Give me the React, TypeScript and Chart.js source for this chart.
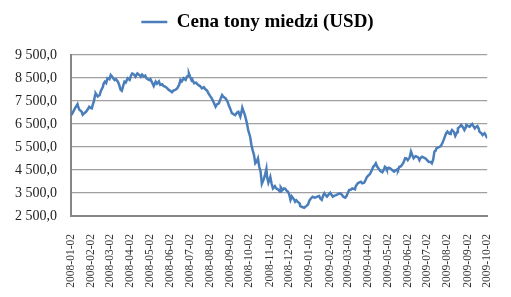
import React, { useEffect, useRef } from "react";
import { Chart, registerables } from "chart.js";

Chart.register(...registerables);

const seriesLabel = "Cena tony miedzi (USD)";

const dates: string[] = [
  "2008-01-02","2008-01-04","2008-01-08","2008-01-12","2008-01-13","2008-01-15","2008-01-18","2008-01-20","2008-01-23","2008-01-25","2008-01-28","2008-01-30",
  "2008-02-01","2008-02-03","2008-02-04","2008-02-06","2008-02-08","2008-02-09","2008-02-12","2008-02-15","2008-02-17","2008-02-20","2008-02-21","2008-02-23","2008-02-25","2008-02-27",
  "2008-03-01","2008-03-03","2008-03-05","2008-03-07","2008-03-09","2008-03-11","2008-03-14","2008-03-16","2008-03-18","2008-03-20","2008-03-22","2008-03-24","2008-03-26","2008-03-29",
  "2008-04-01","2008-04-03","2008-04-05","2008-04-08","2008-04-10","2008-04-13","2008-04-16","2008-04-18","2008-04-20","2008-04-23","2008-04-25","2008-04-27",
  "2008-05-01","2008-05-03","2008-05-06","2008-05-08","2008-05-11","2008-05-13","2008-05-16","2008-05-18","2008-05-21","2008-05-23","2008-05-26","2008-05-29","2008-05-31",
  "2008-06-02","2008-06-05","2008-06-07","2008-06-10","2008-06-13","2008-06-16","2008-06-18","2008-06-20","2008-06-23","2008-06-26","2008-06-28","2008-06-30",
  "2008-07-01","2008-07-03","2008-07-05","2008-07-06","2008-07-09","2008-07-12","2008-07-15","2008-07-18","2008-07-21","2008-07-24","2008-07-26","2008-07-29","2008-07-31",
  "2008-08-03","2008-08-05","2008-08-08","2008-08-11","2008-08-13","2008-08-16","2008-08-18","2008-08-21","2008-08-23","2008-08-26","2008-08-29","2008-08-31",
  "2008-09-02","2008-09-05","2008-09-08","2008-09-10","2008-09-13","2008-09-15","2008-09-18","2008-09-20","2008-09-21","2008-09-23","2008-09-25","2008-09-28","2008-09-30",
  "2008-10-03","2008-10-05","2008-10-07","2008-10-09","2008-10-11","2008-10-13","2008-10-15","2008-10-17","2008-10-19","2008-10-21","2008-10-24","2008-10-26","2008-10-28","2008-10-29","2008-10-31",
  "2008-11-03","2008-11-05","2008-11-07","2008-11-10","2008-11-12","2008-11-15","2008-11-18","2008-11-19","2008-11-22","2008-11-24","2008-11-26","2008-11-28","2008-11-30",
  "2008-12-02","2008-12-04","2008-12-06","2008-12-08","2008-12-10","2008-12-11","2008-12-13","2008-12-15","2008-12-18","2008-12-19","2008-12-21","2008-12-23","2008-12-25","2008-12-28","2008-12-31",
  "2009-01-02","2009-01-04","2009-01-07","2009-01-10","2009-01-12","2009-01-15","2009-01-17","2009-01-19","2009-01-21","2009-01-23","2009-01-25","2009-01-27","2009-01-29",
  "2009-02-01","2009-02-03","2009-02-05","2009-02-07","2009-02-09","2009-02-12","2009-02-15","2009-02-18","2009-02-21","2009-02-23","2009-02-26","2009-02-28",
  "2009-03-02","2009-03-04","2009-03-07","2009-03-09","2009-03-13","2009-03-14","2009-03-17","2009-03-19","2009-03-22","2009-03-24","2009-03-27","2009-03-29","2009-03-31",
  "2009-04-02","2009-04-05","2009-04-08","2009-04-10","2009-04-12","2009-04-14","2009-04-16","2009-04-19","2009-04-21","2009-04-24","2009-04-26","2009-04-28","2009-04-30",
  "2009-05-01","2009-05-04","2009-05-06","2009-05-09","2009-05-12","2009-05-14","2009-05-17","2009-05-18","2009-05-20","2009-05-22","2009-05-24","2009-05-26","2009-05-29","2009-05-31",
  "2009-06-02","2009-06-05","2009-06-07","2009-06-09","2009-06-11","2009-06-14","2009-06-16","2009-06-18","2009-06-20","2009-06-21","2009-06-24","2009-06-26","2009-06-29",
  "2009-07-01","2009-07-04","2009-07-07","2009-07-09","2009-07-11","2009-07-13","2009-07-15","2009-07-16","2009-07-19","2009-07-21","2009-07-23","2009-07-25","2009-07-27","2009-07-29","2009-07-31",
  "2009-08-02","2009-08-04","2009-08-06","2009-08-07","2009-08-09","2009-08-12","2009-08-14","2009-08-17","2009-08-18","2009-08-21","2009-08-23","2009-08-26","2009-08-28","2009-08-30","2009-08-31",
  "2009-09-02","2009-09-05","2009-09-07","2009-09-09","2009-09-11","2009-09-13","2009-09-14","2009-09-17","2009-09-19","2009-09-20","2009-09-23","2009-09-25","2009-09-28","2009-09-30",
  "2009-10-02",
];

const prices: number[] = [
  6880,6950,7180,7360,7250,7110,7050,6900,6980,7030,7150,7250,
  7200,7180,7300,7470,7750,7830,7700,7760,7950,8120,8250,8340,8280,8490,
  8450,8630,8560,8480,8410,8450,8340,8200,8000,7950,8150,8340,8300,8490,
  8420,8600,8700,8650,8560,8700,8630,8560,8650,8560,8600,8480,
  8410,8450,8270,8150,8340,8250,8350,8200,8230,8150,8120,8050,7980,
  7950,7880,7950,7980,8050,8200,8410,8350,8490,8420,8560,8600,
  8700,8550,8410,8450,8270,8300,8200,8150,8050,8100,8020,7950,7830,
  7700,7620,7450,7250,7350,7400,7550,7760,7680,7620,7500,7330,
  7200,6970,6920,6890,7000,7030,6820,7050,7210,7050,6890,6550,6240,
  5950,5590,5350,5150,4790,4860,5000,4640,4450,3900,4100,4300,4550,4200,3950,
  4200,3900,3700,3800,3700,3650,3550,3750,3630,3700,3680,3600,3560,
  3450,3200,3350,3270,3200,3120,3180,3120,3050,2930,2900,2880,2860,2930,3000,
  3170,3250,3340,3300,3310,3350,3370,3250,3200,3380,3490,3400,3340,
  3450,3510,3420,3340,3380,3410,3450,3490,3420,3340,3300,3370,
  3500,3630,3650,3700,3660,3780,3920,3950,3990,3920,3950,4050,4180,
  4250,4330,4500,4640,4700,4790,4650,4530,4450,4400,4500,4640,4600,
  4530,4600,4570,4500,4430,4480,4530,4500,4640,4650,4720,4800,5010,5000,
  4930,5050,5300,5150,5010,5100,5080,5050,4930,5000,5080,5050,5010,
  4950,4860,4850,4790,4950,5300,5350,5440,5480,5510,5550,5660,5800,5950,6100,
  6170,6100,6070,6150,6240,6150,5980,6150,6310,6380,6460,6350,6240,6350,6460,
  6420,6380,6450,6500,6400,6310,6350,6410,6300,6170,6100,6020,6100,6000,
  5880,
];

const monthTicks: string[] = [
  "2008-01-02","2008-02-02","2008-03-02","2008-04-02","2008-05-02","2008-06-02",
  "2008-07-02","2008-08-02","2008-09-02","2008-10-02","2008-11-02","2008-12-02",
  "2009-01-02","2009-02-02","2009-03-02","2009-04-02","2009-05-02","2009-06-02",
  "2009-07-02","2009-08-02","2009-09-02","2009-10-02",
];

const yTicks: number[] = [2500, 3500, 4500, 5500, 6500, 7500, 8500, 9500];

const DAY_MS = 86400000;
const parseUTC = (s: string) => {
  const [y, m, d] = s.split("-").map(Number);
  return Date.UTC(y, m - 1, d);
};
const originMs = parseUTC(monthTicks[0]);
const toDay = (s: string) => Math.round((parseUTC(s) - originMs) / DAY_MS);

const fmtY = (v: number) => {
  const [i, f] = v.toFixed(1).split(".");
  return i.replace(/\B(?=(\d{3})+(?!\d))/g, " ") + "," + f;
};

const W = 511;
const H = 297;
const PAD_LEFT = 24;
const PLOT_LEFT = 71;
const PLOT_BOTTOM = 216;

// let the y-axis labels use the room left of the layout padding (avoid clipping)
const widenYLabelArea = {
  id: "widenYLabelArea",
  afterLayout(chart: any) {
    const y = chart.scales.y;
    if (y) y.left = 0;
  },
};

export default function App() {
  const ref = useRef<HTMLCanvasElement | null>(null);

  useEffect(() => {
    document.body.style.margin = "0";
    const canvas = ref.current;
    if (!canvas) return;
    const serif = "'Liberation Serif', 'Times New Roman', serif";
    const chart = new Chart(canvas, {
      type: "line",
      data: {
        datasets: [
          {
            label: seriesLabel,
            data: dates.map((d, i) => ({ x: toDay(d), y: prices[i] })),
            borderColor: "#4A7EBB",
            backgroundColor: "#4A7EBB",
            borderWidth: 2.5,
            pointRadius: 0,
            pointHoverRadius: 0,
            tension: 0,
            fill: false,
          },
        ],
      },
      options: {
        animation: false,
        responsive: false,
        devicePixelRatio: 1,
        layout: { padding: { top: 2.5, left: PAD_LEFT, right: 20, bottom: 0 } },
        plugins: {
          legend: {
            display: true,
            position: "top",
            weight: 3000,
            labels: {
              usePointStyle: true,
              pointStyle: "line",
              pointStyleWidth: 26,
              padding: 10,
              color: "#000000",
              font: { family: serif, size: 19, weight: "bold" },
            },
          },
          title: {
            display: true,
            text: "",
            font: { size: 1 },
            padding: { top: 12.3, bottom: 0 },
          },
          tooltip: { enabled: false },
        },
        scales: {
          x: {
            type: "linear",
            min: toDay(monthTicks[0]),
            max: toDay(monthTicks[monthTicks.length - 1]),
            grid: { display: false },
            border: { display: true, color: "#868686", width: 2 },
            afterBuildTicks: (scale: any) => {
              scale.ticks = monthTicks.map((s) => ({ value: toDay(s) }));
            },
            afterFit: (scale: any) => {
              scale.height = H - PLOT_BOTTOM;
            },
            ticks: {
              autoSkip: false,
              minRotation: 90,
              maxRotation: 90,
              padding: 10,
              color: "#333333",
              font: { family: serif, size: 11.5 },
              callback: (_v: any, index: number) => monthTicks[index],
            },
          },
          y: {
            type: "linear",
            min: yTicks[0],
            max: yTicks[yTicks.length - 1],
            grid: { color: "#A0A0A0", lineWidth: 1.3, drawTicks: false },
            border: { display: true, color: "#868686", width: 2 },
            afterBuildTicks: (scale: any) => {
              scale.ticks = yTicks.map((v) => ({ value: v }));
            },
            afterFit: (scale: any) => {
              scale.width = PLOT_LEFT - PAD_LEFT;
            },
            ticks: {
              padding: 14,
              color: "#222222",
              font: { family: serif, size: 14 },
              callback: (v: any) => fmtY(Number(v)),
            },
          },
        },
      },
      plugins: [widenYLabelArea],
    } as any);
    return () => chart.destroy();
  }, []);

  return (
    <div style={{ width: W, height: H, background: "#ffffff" }}>
      <canvas ref={ref} width={W} height={H} style={{ display: "block" }} />
    </div>
  );
}
